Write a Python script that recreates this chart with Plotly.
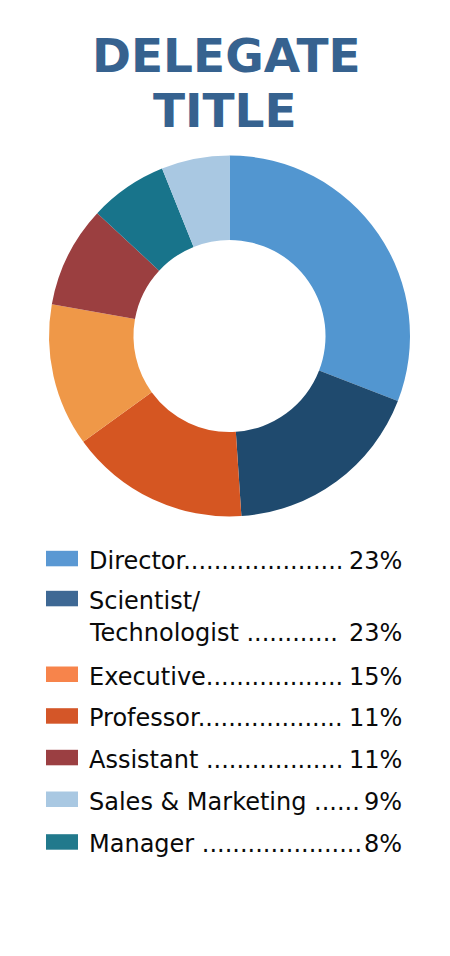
import plotly.graph_objects as go

W, H = 450, 956
PAGE_OFFSET = 8  # default body margin of the written html page

# ---- data ----
title_lines = ["DELEGATE", "TITLE"]

slice_labels = ["Director", "Scientist/Technologist", "Professor", "Executive",
                "Assistant", "Manager", "Sales & Marketing"]
slice_values = [30.9, 18.1, 16.1, 12.8, 9.1, 7.0, 6.1]
slice_colors = ["#5296D0", "#1F4A6E", "#D55622", "#EF9848",
                "#9B3F40", "#18748B", "#A9C8E2"]

legend_lines = [["Director"], ["Scientist/", "Technologist "], ["Executive"],
                ["Professor"], ["Assistant "], ["Sales & Marketing "], ["Manager "]]
legend_pcts = ["23%", "23%", "15%", "11%", "11%", "9%", "8%"]
legend_colors = ["#5A98D3", "#3E6894", "#F7844B", "#D45628",
                 "#9B3F42", "#A9C8E2", "#21798C"]

# ---- layout helpers (page pixel -> paper) ----
def px(x):
    return (x - PAGE_OFFSET) / W

def py(y):
    return 1 - (y - PAGE_OFFSET) / H

leader_dots = [21, 12, 18, 19, 18, 6, 21]
row_baselines = [[569.3], [609.3, 641.7], [685.0], [726.7], [768.3], [810.0], [852.7]]

FONT = "DejaVu Sans"
FS = 24
MID = 0.346 * FS  # baseline -> bbox middle offset
TXT = "#0A0A0A"

fig = go.Figure()
fig.add_trace(go.Pie(
    labels=slice_labels, values=slice_values, sort=False,
    direction="clockwise", rotation=0, hole=0.532,
    marker=dict(colors=slice_colors, line=dict(width=0)),
    textinfo="none", showlegend=False,
    domain=dict(x=[px(49), px(410)], y=[py(516.5), py(155.5)]),
))

annotations = []
shapes = []

# title
title_pos = [(226, 72), (224.5, 127)]
for text, (cx, base) in zip(title_lines, title_pos):
    annotations.append(dict(
        text=text, x=px(cx), y=py(base - 0.346 * 47), xref="paper", yref="paper",
        xanchor="center", yanchor="middle", showarrow=False,
        borderpad=0, borderwidth=0,
        font=dict(family=FONT, size=47, color="#36628F", weight="bold"),
    ))

# legend
for lines, pct, col, dots, bases in zip(legend_lines, legend_pcts, legend_colors,
                                        leader_dots, row_baselines):
    top = bases[0] - 18.5
    shapes.append(dict(type="rect", xref="paper", yref="paper",
                       x0=px(46), x1=px(78), y0=py(top), y1=py(top + 15.5),
                       fillcolor=col, line=dict(width=0)))
    for i, (ln, b) in enumerate(zip(lines, bases)):
        last = i == len(lines) - 1
        txt = ln + ("." * dots if last else "")
        annotations.append(dict(
            text=txt, x=px(89), y=py(b - MID), xref="paper", yref="paper",
            xanchor="left", yanchor="middle", showarrow=False,
            borderpad=0, borderwidth=0,
            font=dict(family=FONT, size=FS, color=TXT),
        ))
        if last:
            annotations.append(dict(
                text=pct, x=px(401.5), y=py(b - MID), xref="paper", yref="paper",
                xanchor="right", yanchor="middle", showarrow=False,
                borderpad=0, borderwidth=0,
                font=dict(family=FONT, size=FS, color=TXT),
            ))

fig.update_layout(
    width=W, height=H,
    margin=dict(l=0, r=0, t=0, b=0),
    paper_bgcolor="white", plot_bgcolor="white",
    annotations=annotations, shapes=shapes,
    showlegend=False,
)

fig.write_html("out.html", config={"displayModeBar": False})
